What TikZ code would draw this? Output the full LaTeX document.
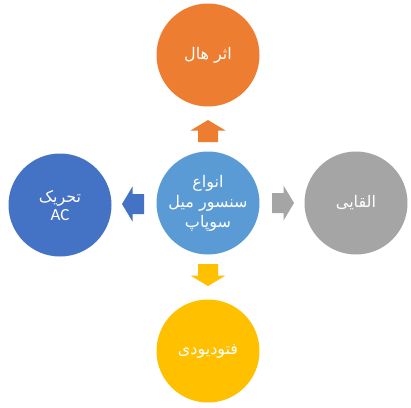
\documentclass[tikz,border=0pt]{standalone}
\usepackage{fontspec}
\usetikzlibrary{calc}
\setmainfont{Carlito}
\newfontfamily\arabicfont[Script=Arabic]{DejaVu Sans}
\TeXXeTstate=1
\definecolor{cblue}{HTML}{5B9BD5}
\definecolor{corange}{HTML}{ED7D31}
\definecolor{cgray}{HTML}{A5A5A5}
\definecolor{cyellow}{HTML}{FFC000}
\definecolor{cdblue}{HTML}{4472C4}
\tikzset{
  bubble/.style={circle, minimum size=103pt, inner sep=0pt, text=white, align=center,
    font=\arabicfont\fontsize{16}{20}\selectfont},
  blockarrow/.pic={\fill (-11,-10) -- (0.5,-10) -- (0.5,-17.5) -- (11,0) -- (0.5,17.5) -- (0.5,10) -- (-11,10) -- cycle;}
}
\begin{document}
\begin{tikzpicture}[x=1pt,y=-1pt]
\useasboundingbox[fill=white] (0,0) rectangle (411,407);
\node[bubble, fill=cblue] (c) at (208,203) {\beginR انواع\endR\\\beginR سنسور میل\endR\\\beginR سوپاپ\endR};
\node[bubble, fill=corange] (t) at (208,55) {\beginR اثر هال\endR};
\node[bubble, fill=cgray] (r) at (356,203) {\beginR القایی\endR};
\node[bubble, fill=cyellow] (b) at (208,351) {\beginR فتودیودی\endR};
\node[bubble, fill=cdblue, font=\arabicfont\fontsize{16}{18}\selectfont] (l) at (60,205) {\beginR تحریک\endR\\{\fontspec{Carlito}\fontsize{17}{18}\selectfont AC}};
\coordinate (mt) at ($(c)!0.5!(t)$);
\coordinate (mr) at ($(c)!0.5!(r)$);
\coordinate (mb) at ($(c)!0.5!(b)$);
\coordinate (ml) at ($(c)!0.5!(l)$);
\pic[fill=corange, rotate=90] at ([yshift=-2pt]mt) {blockarrow};
\pic[fill=cgray] at ([xshift=1pt]mr) {blockarrow};
\pic[fill=cyellow, rotate=-90] at ([yshift=2pt]mb) {blockarrow};
\pic[fill=cdblue, rotate=180] at ([xshift=-1pt]ml) {blockarrow};
\end{tikzpicture}
\end{document}
